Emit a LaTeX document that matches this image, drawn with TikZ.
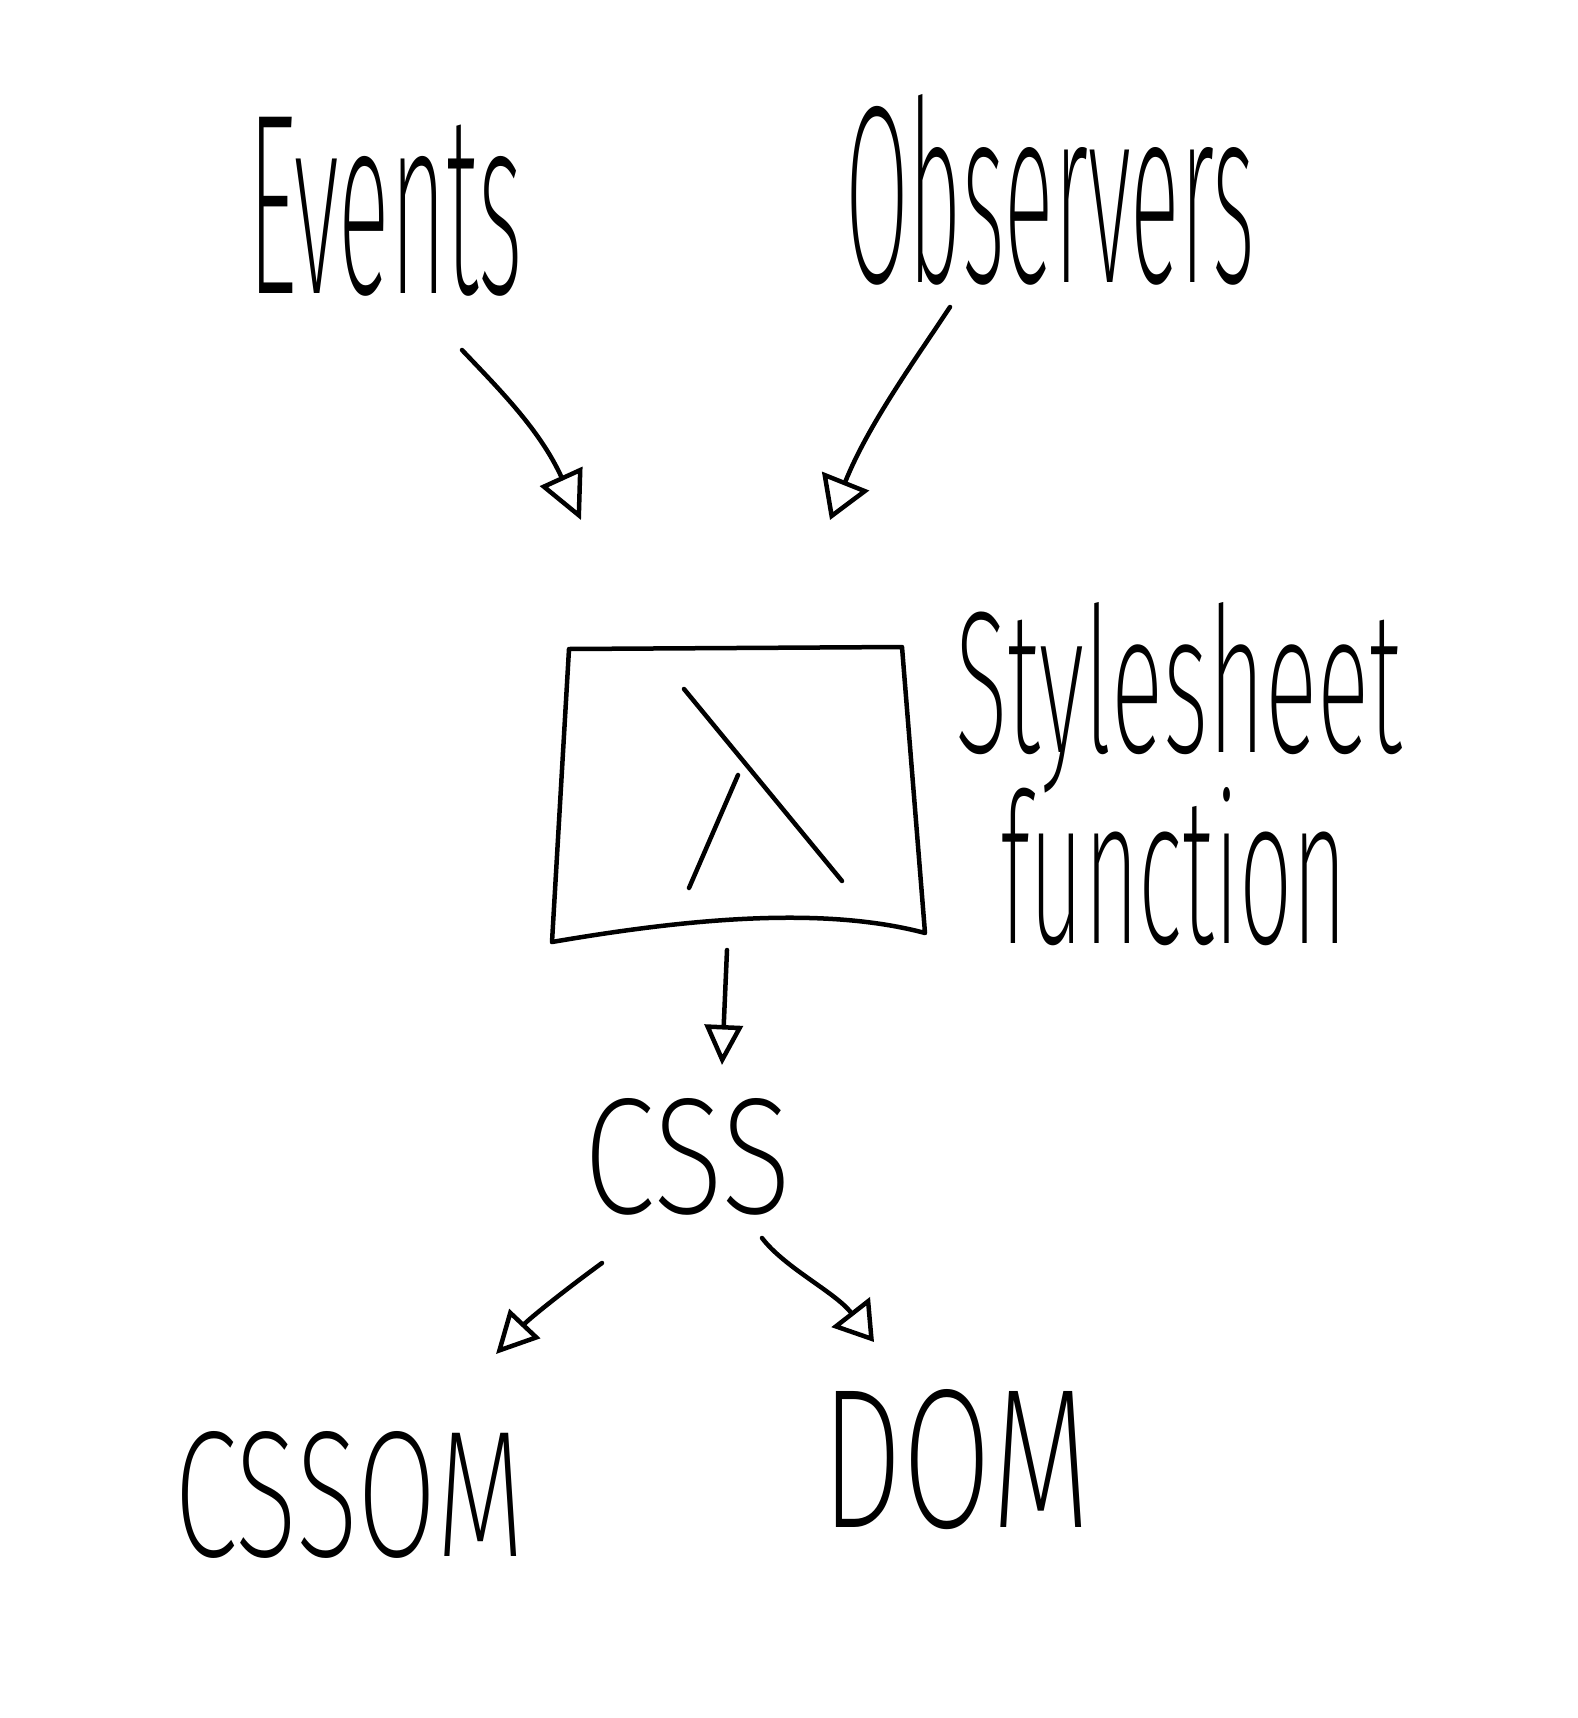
\documentclass[tikz,border=0pt]{standalone}
\usepackage{fontspec}
\usepackage{graphicx}
\usetikzlibrary{arrows.meta}
\IfFontExistsTF{Fira Sans ExtraLight}{\newfontfamily\hand{Fira Sans ExtraLight}}{%
\IfFontExistsTF{Fira Sans Thin}{\newfontfamily\hand{Fira Sans Thin}}{%
\IfFontExistsTF{Lato Thin}{\newfontfamily\hand{Lato Thin}}{%
\IfFontExistsTF{Fira Sans Light}{\newfontfamily\hand{Fira Sans Light}}{%
\IfFontExistsTF{Lato Light}{\newfontfamily\hand{Lato Light}}{%
\newfontfamily\hand{Fira Sans}}}}}}
\newcommand{\handtext}[3]{\resizebox{#1}{#2}{\hand #3}}
\begin{document}
\begin{tikzpicture}[x=1pt,y=-1pt,
  ink/.style={line width=4.5pt, line cap=round, line join=round, black},
  conn/.style={ink},
  lbl/.style={inner sep=0pt, outer sep=0pt, anchor=base west},
]
\useasboundingbox[fill=white] (0,0) rectangle (1578,1718);

% labels
\node[lbl] (events) at (248,293) {\handtext{275pt}{176pt}{Events}};
\node[lbl] (observers) at (845,282) {\handtext{410pt}{188pt}{Observers}};
\node[lbl] (stylesheet) at (955,752) {\handtext{447pt}{150pt}{Stylesheet}};
\node[lbl] (function) at (1000,943) {\handtext{347pt}{156pt}{function}};
\node[lbl] (css) at (583,1213) {\handtext{209pt}{115pt}{CSS}};
\node[lbl] (cssom) at (174,1556) {\handtext{351pt}{125pt}{CSSOM}};
\node[lbl] (dom) at (821,1527) {\handtext{269pt}{138pt}{DOM}};

% stylesheet function box
\coordinate (tl) at (569,649);
\coordinate (tr) at (902,647);
\coordinate (br) at (925,933);
\coordinate (bl) at (552,942);
\draw[ink] (bl) -- (tl) -- (tr) -- (br) .. controls (820,905) and (680,920) .. (bl);
% lambda
\draw[ink] (684,689) -- (842,881);
\draw[ink] (738,775) -- (689,888);

% connectors
\coordinate (e1) at (462,350);
\coordinate (e2) at (581,520);
\draw[conn, -{Triangle[open,length=48pt,width=46pt]}] (e1) .. controls (500,390) and (540,430) .. (e2);

\coordinate (o1) at (950,307);
\coordinate (o2) at (830,520);
\draw[conn, -{Triangle[open,length=42pt,width=50pt]}] (o1) .. controls (915,360) and (868,425) .. (o2);

\coordinate (d1) at (727,950);
\coordinate (d2) at (722,1065);
\draw[conn, -{Triangle[open,length=40pt,width=38pt]}] (d1) -- (d2);

\coordinate (l1) at (602,1263);
\coordinate (l2) at (496,1354);
\draw[conn, -{Triangle[open,length=42pt,width=42pt]}] (l1) .. controls (565,1290) and (530,1318) .. (l2);

\coordinate (r1) at (762,1238);
\coordinate (r2) at (874,1342);
\draw[conn, -{Triangle[open,length=38pt,width=48pt]}] (r1) .. controls (785,1268) and (835,1292) .. (r2);
\end{tikzpicture}
\end{document}
